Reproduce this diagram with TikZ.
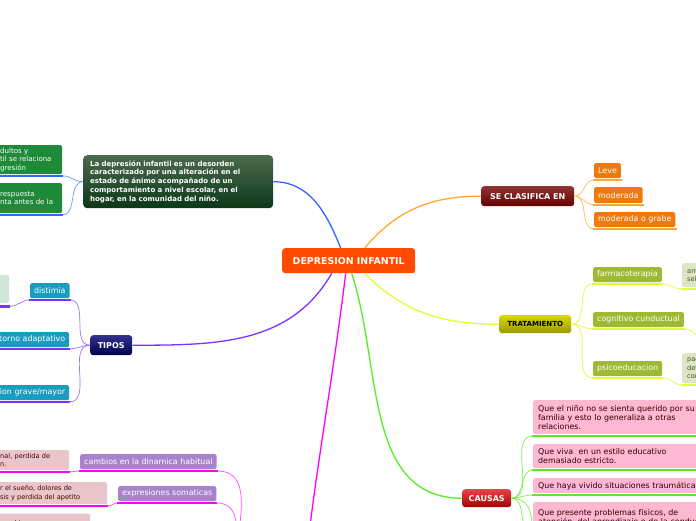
\documentclass[tikz,border=0pt]{standalone}
\usepackage{fontspec}
\setmainfont{DejaVu Sans}
\usetikzlibrary{calc}

\definecolor{rootred}{HTML}{FF4A00}
\definecolor{bluebr}{HTML}{3366FF}
\definecolor{orangebr}{HTML}{FFA833}
\definecolor{orangeleaf}{HTML}{EE7A0E}
\definecolor{yellowbr}{HTML}{DDFF33}
\definecolor{oliveleaf}{HTML}{9DBA32}
\definecolor{paleolive}{HTML}{DCE6C2}
\definecolor{greenbr}{HTML}{55EE22}
\definecolor{causapink}{HTML}{FFB8D2}
\definecolor{purplebr}{HTML}{7A33FF}
\definecolor{tealleaf}{HTML}{1A9CBF}
\definecolor{palemint}{HTML}{CDE9D6}
\definecolor{magentabr}{HTML}{FF00FF}
\definecolor{lavender}{HTML}{A882CC}
\definecolor{pinknote}{HTML}{E8C6CA}
\definecolor{leafgreen}{HTML}{1E8A3A}
\definecolor{deftop}{HTML}{4C6A4E}
\definecolor{defbot}{HTML}{0C3818}

\begin{document}
\begin{tikzpicture}[x=1pt, y=-1pt,
    every node/.style={inner sep=0pt, anchor=north west},
    topic/.style={rounded corners=3pt, text=white, align=center,
      font=\fontsize{8}{9}\selectfont\bfseries},
    leaf/.style={rounded corners=1.5pt, text=white, align=left,
      inner xsep=4pt, font=\fontsize{7.9}{9}\selectfont},
    note/.style={rounded corners=1.5pt, align=left, inner xsep=5pt,
      font=\fontsize{6.6}{8.5}\selectfont},
    branch/.style={line width=1.3pt},
    twig/.style={line width=0.7pt},
    uline/.style={line width=2.6pt}
  ]
  \useasboundingbox (0,0) rectangle (696,520);
  \fill[white] (0,0) rectangle (696,520);

  % centre
  \node[rounded corners=3pt, fill=rootred, text=white, minimum width=133pt,
    minimum height=25pt, font=\fontsize{9.4}{10}\selectfont\bfseries]
    (root) at (282,248) {DEPRESION INFANTIL};

  % definition
  \node[rounded corners=4pt, top color=deftop, bottom color=defbot,
    text=white, align=left, text width=176pt, inner xsep=7pt, minimum height=53pt,
    font=\fontsize{7}{8.8}\selectfont\bfseries] (def) at (83,155)
    {La depresión infantil es un desorden\\caracterizado por una alteración en el\\
     estado de ánimo acompañado de un\\comportamiento a nivel escolar, en el\\
     hogar, en la comunidad del niño.};
  \node[leaf, fill=leafgreen, text width=54pt, inner xsep=8pt, minimum height=29pt,
    font=\fontsize{7}{8.6}\selectfont] (lg1) at (-8,145) {dultos y\\til se relaciona\\gresión};
  \node[leaf, fill=leafgreen, text width=54pt, inner xsep=8pt, minimum height=30pt,
    font=\fontsize{7}{8.6}\selectfont] (lg2) at (-8,183) {respuesta\\nta antes de la};

  % se clasifica en
  \node[topic, top color=red!45!black!80, bottom color=red!40!black, minimum width=93pt,
    minimum height=20pt] (clas) at (481,186) {SE CLASIFICA EN};
  \node[leaf, fill=orangeleaf, minimum height=15pt] (leve) at (594,163) {Leve};
  \node[leaf, fill=orangeleaf, minimum height=16pt] (mod) at (594,187) {moderada};
  \node[leaf, fill=orangeleaf, minimum height=15pt] (grabe) at (594,212) {moderada o grabe};

  % tratamiento
  \node[topic, top color=yellow!85!black, bottom color=yellow!60!black, text=black,
    minimum width=72pt, minimum height=18pt, font=\fontsize{7}{8}\selectfont\bfseries]
    (trat) at (499,315) {TRATAMIENTO};
  \node[leaf, fill=oliveleaf, minimum height=15pt] (farm) at (593,267) {farmacoterapia};
  \node[leaf, fill=oliveleaf, minimum height=15pt] (cog) at (593,312) {cognitivo cunductual};
  \node[leaf, fill=oliveleaf, minimum height=15pt] (psico) at (593,361) {psicoeducacion};
  \node[note, fill=paleolive, text=black!60!olive, text width=30pt, minimum height=24pt]
    (ant) at (682,263) {ant\\sel};
  \node[note, fill=paleolive, text=black!60!olive, text width=30pt, minimum height=30pt]
    (pac) at (682,353) {pac\\det\\cor};
  \coordinate (cogx) at (704,352);

  % causas
  \node[topic, top color=red!70!white!90!black, bottom color=red!65!black, minimum width=49pt,
    minimum height=18pt] (causas) at (462,489) {CAUSAS};
  \node[leaf, fill=causapink, text=black!80!red, text width=170pt, inner xsep=5pt,
    minimum height=34pt] (c1) at (533,400)
    {Que el niño no se sienta querido por su\\familia y esto lo generaliza a otras\\relaciones.};
  \node[leaf, fill=causapink, text=black!80!red, text width=170pt, inner xsep=5pt,
    minimum height=24pt] (c2) at (533,444) {Que viva\ \ en un estilo educativo\\demasiado estricto.};
  \node[leaf, fill=causapink, text=black!80!red, text width=170pt, inner xsep=5pt,
    minimum height=15pt] (c3) at (533,478) {Que haya vivido situaciones traumáticas};
  \node[leaf, fill=causapink, text=black!80!red, text width=170pt, inner xsep=5pt,
    minimum height=30pt] (c4) at (533,502)
    {Que presente problemas físicos, de\\atención, del aprendizaje o de la conducta};
  \coordinate (c5) at (530,580);

  % tipos
  \node[topic, top color=blue!45!black!80, bottom color=blue!30!black, minimum width=42pt,
    minimum height=20pt] (tipos) at (90,335) {TIPOS};
  \node[leaf, fill=tealleaf, minimum height=15pt] (dist) at (30,283) {distimia};
  \node[leaf, fill=tealleaf, align=right, text width=71pt, minimum height=15pt]
    (trast) at (-10,332) {torno adaptativo};
  \node[leaf, fill=tealleaf, align=right, text width=71pt, minimum height=15pt]
    (grave) at (-10,385) {ion grave/mayor};
  \node[note, fill=palemint, minimum width=19pt, minimum height=28pt] (mint) at (-10,275) {};

  % sintomas (below)
  \coordinate (sint) at (300,620);
  \coordinate (sintb) at (236,580);
  \node[leaf, fill=lavender, minimum height=15pt] (camb) at (80,454) {cambios en la dinamica habitual};
  \node[leaf, fill=lavender, minimum height=15pt] (expr) at (118,486) {expresiones somaticas};
  \node[note, fill=pinknote, text=black!70!red, text width=59pt, inner xsep=10pt,
    minimum height=20pt] (p1) at (-10,450) {nal, perdida de\\n.};
  \node[note, fill=pinknote, text=black!70!red, text width=97pt, inner xsep=10pt,
    minimum height=22pt] (p2) at (-10,482) {r el sueño, dolores de\\sis y perdida del apetito};
  \node[note, fill=pinknote, text=black!70!red, text width=80pt, inner xsep=10pt,
    minimum height=20pt] (p3) at (-10,513.5) {en el juego\\ };

  % main branches
  \draw[branch, bluebr] ($(root.north)+(-8,0)$) to[out=112, in=0] (def.east);
  \draw[branch, orangebr] ($(root.north)+(16,0)$) to[out=50, in=180] (clas.west);
  \draw[branch, yellowbr] ($(root.south)+(16,0)$) to[out=-45, in=180] (trat.west);
  \draw[branch, greenbr] ($(root.south)+(3,0)$) to[out=-72, in=180] (causas.west);
  \draw[branch, magentabr] ($(root.south)+(-3,0)$) to[out=-97, in=85] (sint);
  \draw[branch, purplebr] ($(root.south)+(-17,0)$) to[out=-120, in=0] (tipos.east);

  % twigs
  \foreach \n in {lg1,lg2} \draw[twig, bluebr!70] (def.west) to[out=180, in=0] ($(\n.south east)+(0,1.5)$);
  \foreach \n in {leve,mod,grabe} \draw[twig, orangebr!80] (clas.east) to[out=0, in=180] ($(\n.south west)+(0,1.5)$);
  \foreach \n in {farm,cog,psico} \draw[twig, yellowbr] (trat.east) to[out=0, in=180] ($(\n.south west)+(0,1.5)$);
  \draw[twig, yellowbr] ($(farm.south east)+(0,1.5)$) to[out=0, in=180] ($(ant.south west)+(0,1.5)$);
  \draw[twig, yellowbr] ($(cog.south east)+(0,1.5)$) to[out=0, in=110] (cogx);
  \draw[twig, yellowbr] ($(psico.south east)+(0,1.5)$) to[out=0, in=180] ($(pac.south west)+(0,1.5)$);
  \foreach \n in {c1,c2,c3,c4} \draw[twig, greenbr!80] (causas.east) to[out=0, in=180] ($(\n.south west)+(0,1.5)$);
  \draw[twig, greenbr!80] (causas.east) to[out=0, in=95] (c5);
  \foreach \n in {dist,trast,grave} \draw[twig, purplebr!70] (tipos.west) to[out=180, in=0] ($(\n.south east)+(0,1.5)$);
  \draw[twig, purplebr!70] ($(dist.south west)+(0,1.5)$) to[out=180, in=0] ($(mint.south east)+(0,3)$);
  \foreach \n in {camb,expr} \draw[twig, magentabr!70] ($(\n.south east)+(0,1.5)$) to[out=0, in=95] (sintb);
  \draw[twig, magentabr!70] ($(camb.south west)+(0,1.5)$) to[out=180, in=0] ($(p1.south east)+(0,1.5)$);
  \draw[twig, magentabr!70] ($(expr.south west)+(0,1.5)$) to[out=180, in=0] ($(p2.south east)+(0,1.5)$);

  % underlines
  \foreach \n/\c in {lg1/bluebr, lg2/bluebr, leve/orangebr, mod/orangebr, grabe/orangebr,
      farm/yellowbr, cog/yellowbr, psico/yellowbr, ant/yellowbr, pac/yellowbr,
      c1/greenbr, c2/greenbr, c3/greenbr, c4/greenbr,
      dist/purplebr, trast/purplebr, grave/purplebr,
      camb/magentabr, expr/magentabr, p1/magentabr, p2/magentabr}
    \draw[uline, \c] ($(\n.south west)+(-1,1.5)$) -- ($(\n.south east)+(1,1.5)$);
  \draw[uline, purplebr] ($(mint.south west)+(0,3)$) -- ($(mint.south east)+(1,3)$);
\end{tikzpicture}
\end{document}
